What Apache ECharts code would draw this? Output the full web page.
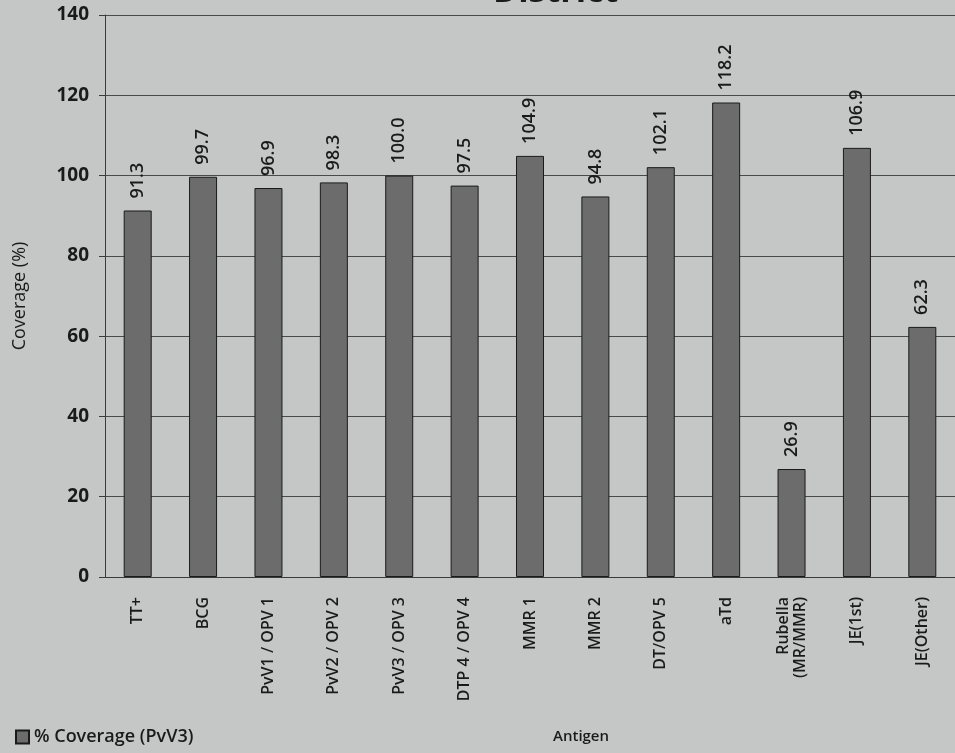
<!DOCTYPE html>
<html>
<head>
<meta charset="utf-8">
<script src="https://cdn.jsdelivr.net/npm/echarts@6/dist/echarts.min.js"></script>
<style>
  html, body { margin: 0; padding: 0; background: #c5c7c6; }
  #main { width: 955px; height: 753px; }
</style>
</head>
<body>
<div id="main"></div>
<script>
// antigens on the x axis
var antigens = ['TT+', 'BCG', 'PvV1 / OPV 1', 'PvV2 / OPV 2', 'PvV3 / OPV 3', 'DTP 4 / OPV 4',
  'MMR 1', 'MMR 2', 'DT/OPV 5', 'aTd', 'Rubella\n(MR/MMR)', 'JE(1st)', 'JE(Other)'];
// % coverage (PvV3)
var coverage = [91.3, 99.7, 96.9, 98.3, 100.0, 97.5, 104.9, 94.8, 102.1, 118.2, 26.9, 106.9, 62.3];
var yTicks = [0, 20, 40, 60, 80, 100, 120, 140];

var myChart = echarts.init(document.getElementById('main'));
var fontMain = '"Open Sans", "Liberation Sans", sans-serif';

var option = {
  backgroundColor: '#c5c7c6',
  animation: false,
  title: {
    text: 'District',
    left: 488,
    top: -30,
    textStyle: { fontFamily: fontMain, fontSize: 34, fontWeight: 'bold', color: '#1a1a1a' }
  },
  grid: { left: 105, right: -2, top: 15, bottom: 176 },
  legend: {
    left: 10,
    bottom: 2,
    itemWidth: 13,
    itemHeight: 13,
    itemGap: 6,
    icon: 'rect',
    textStyle: { fontFamily: fontMain, fontSize: 18, fontWeight: 600, color: '#1a1a1a' },
    data: ['% Coverage (PvV3)']
  },
  graphic: [{
    type: 'text',
    left: 553,
    top: 729,
    style: { text: 'Antigen', fontFamily: fontMain, fontSize: 15, fontWeight: 600, fill: '#1a1a1a' }
  }],
  xAxis: {
    type: 'category',
    data: antigens,
    axisLine: { show: true, lineStyle: { color: '#3a3a3a', width: 1 } },
    axisTick: { show: false },
    axisLabel: {
      rotate: 90,
      interval: 0,
      margin: 20,
      fontFamily: fontMain,
      fontSize: 16,
      fontWeight: 600,
      color: '#1a1a1a',
      lineHeight: 17
    }
  },
  yAxis: {
    type: 'value',
    min: 0,
    max: 140,
    interval: 20,
    name: 'Coverage (%)',
    nameLocation: 'middle',
    nameGap: 76,
    nameTextStyle: { fontFamily: fontMain, fontSize: 18, fontWeight: 500, color: '#1a1a1a' },
    axisLine: { show: true, lineStyle: { color: '#3a3a3a', width: 1 } },
    axisTick: { show: true, length: 6, lineStyle: { color: '#3a3a3a' } },
    axisLabel: {
      margin: 16,
      fontFamily: fontMain,
      fontSize: 19,
      fontWeight: 'bold',
      color: '#1a1a1a',
      formatter: function (v) { return yTicks.indexOf(v) > -1 ? v : ''; }
    },
    splitLine: { show: true, lineStyle: { color: '#4a4a4a', width: 1 } }
  },
  series: [{
    name: '% Coverage (PvV3)',
    type: 'bar',
    data: coverage,
    barWidth: 28,
    itemStyle: { color: '#6c6c6c', borderColor: '#1a1a1a', borderWidth: 1 },
    label: {
      show: true,
      position: 'top',
      rotate: 90,
      align: 'left',
      verticalAlign: 'middle',
      distance: 12,
      fontFamily: fontMain,
      fontSize: 18,
      fontWeight: 600,
      color: '#1a1a1a',
      formatter: function (p) { return p.value.toFixed(1); }
    }
  }]
};
myChart.setOption(option);
</script>
</body>
</html>
